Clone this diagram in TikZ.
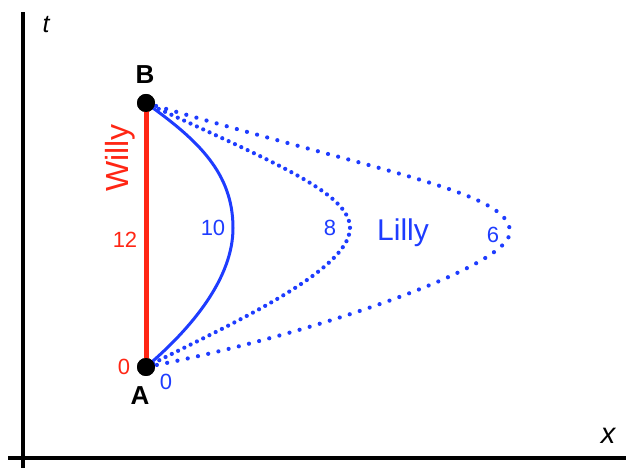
\documentclass[tikz,border=0pt]{standalone}
\usepackage{fontspec}
\setmainfont{Liberation Sans}
\definecolor{wred}{RGB}{255,38,20}
\definecolor{lblue}{RGB}{30,60,255}
\begin{document}
\begin{tikzpicture}[x=1pt,y=1pt,
  axis/.style={line width=3.2pt,black},
  ev/.style={circle,fill=black,inner sep=0pt,minimum size=18pt},
  wl/.style={line width=5pt,wred},
  lsolid/.style={line width=3pt,lblue},
  ldot/.style={line width=4.2pt,lblue,line cap=round,dash pattern=on 0pt off #1},
  rlab/.style={text=wred,font=\fontsize{22}{22}\selectfont},
  blab/.style={text=lblue,font=\fontsize{22}{22}\selectfont},
  evlab/.style={font=\fontsize{26}{26}\selectfont\bfseries},
  axlab/.style={font=\fontsize{#1}{#1}\selectfont\itshape}]
\useasboundingbox (0,0) rectangle (626,468);
\coordinate (ytop) at (23,456);
\coordinate (ybot) at (23,0);
\coordinate (xl) at (8,10);
\coordinate (xr) at (626,10);
\draw[axis] (ybot) -- (ytop);
\draw[axis] (xl) -- (xr);
\node[axlab=25] (t) at (46,443) {t};
\node[axlab=29] (x) at (608,32) {x};
\node[ev] (B) at (146,365) {};
\node[ev] (A) at (146,101) {};
\coordinate (tip10) at (233,240);
\coordinate (tip8) at (350,240);
\coordinate (tip6) at (510,236);
\draw[wl] (A.center) -- (B.center);
\draw[lsolid] (B.center) .. controls (198,328) and (233,295) .. (tip10)
  .. controls (233,190) and (192,140) .. (A.center);
\draw[ldot=7pt] (B.center) .. controls (273,306) and (350,275) .. (tip8)
  .. controls (350,195) and (215,137) .. (A.center);
\draw[ldot=10.5pt] (B.center) .. controls (386,294) and (510,276) .. (tip6)
  .. controls (510,200) and (296,129) .. (A.center);
\node[ev] at (B) {};
\node[ev] at (A) {};
\node[evlab] (Bl) at (145,393) {B};
\node[evlab] (Al) at (140,72) {A};
\node[rlab,font=\fontsize{32}{32}\selectfont,rotate=90] (willy) at (120,310) {Willy};
\node[rlab] (w12) at (125,228) {12};
\node[rlab] (w0) at (124,101) {0};
\node[blab] (l0) at (166,86) {0};
\node[blab] (l10) at (213,240) {10};
\node[blab] (l8) at (330,240) {8};
\node[blab] (l6) at (493,233) {6};
\node[blab,font=\fontsize{30}{30}\selectfont] (lilly) at (403,235) {Lilly};
\end{tikzpicture}
\end{document}
